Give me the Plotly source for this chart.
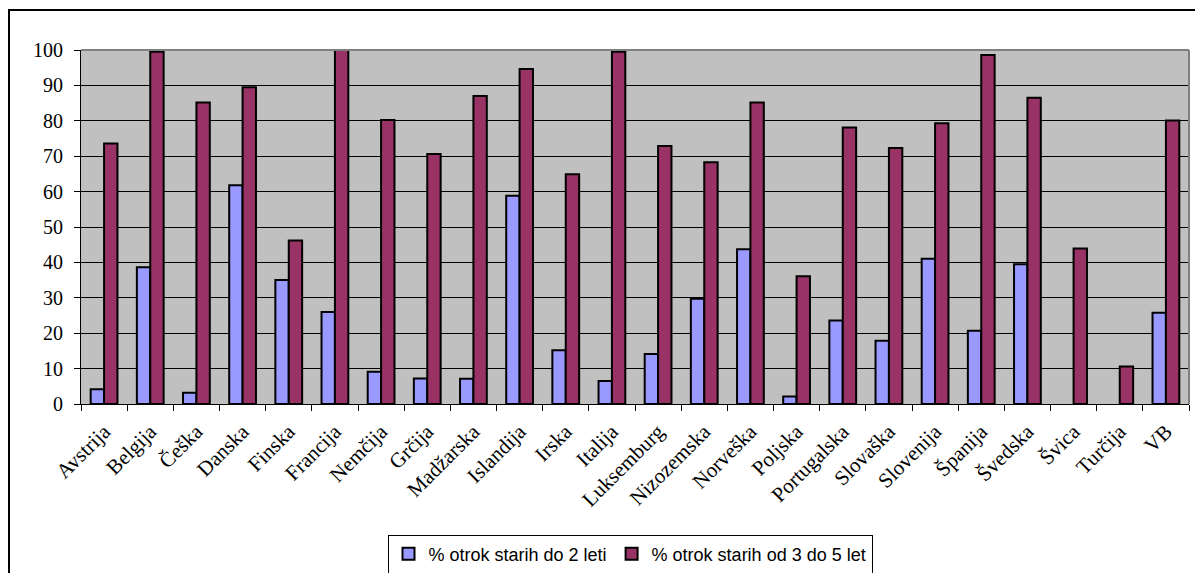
import plotly.graph_objects as go

countries = ["Avstrija", "Belgija", "Češka", "Danska", "Finska", "Francija", "Nemčija",
             "Grčija", "Madžarska", "Islandija", "Irska", "Italija", "Luksemburg",
             "Nizozemska", "Norveška", "Poljska", "Portugalska", "Slovaška", "Slovenija",
             "Španija", "Švedska", "Švica", "Turčija", "VB"]
do2 = [4.2, 38.6, 3.2, 61.8, 35.0, 26.0, 9.1, 7.2, 7.1, 58.8, 15.2, 6.5, 14.1,
       29.7, 43.7, 2.1, 23.6, 17.9, 41.0, 20.7, 39.5, None, None, 25.8]
od3do5 = [73.6, 99.5, 85.2, 89.5, 46.2, 100.0, 80.2, 70.6, 87.0, 94.6, 64.9, 99.5, 72.9,
          68.3, 85.2, 36.1, 78.1, 72.3, 79.3, 98.6, 86.5, 43.9, 10.6, 80.1]
y_ticks = list(range(0, 101, 10))

W, H = 1187, 565
L, T, PW, PH = 73, 42, 1108, 354

fig = go.Figure()
fig.add_trace(go.Bar(x=countries, y=do2, name="% otrok starih do 2 leti",
                     marker=dict(color="#9999FF", line=dict(color="black", width=2))))
fig.add_trace(go.Bar(x=countries, y=od3do5, name="% otrok starih od 3 do 5 let",
                     marker=dict(color="#993366", line=dict(color="black", width=2))))

fig.update_layout(
    width=W, height=H,
    margin=dict(l=L, r=W - L - PW, t=T, b=H - T - PH, autoexpand=False),
    paper_bgcolor="white", plot_bgcolor="#C0C0C0",
    barmode="group", bargap=0.42, bargroupgap=0,
    showlegend=True,
    legend=dict(orientation="h", x=(622 - L) / PW, xanchor="center",
                y=(T + PH - 546) / PH, yanchor="middle",
                bordercolor="black", borderwidth=1, bgcolor="white",
                font=dict(family="Liberation Sans, Arial", size=18, color="black"),
                traceorder="normal"),
    xaxis=dict(type="category", tickangle=-45, tickson="boundaries", ticks="outside",
               ticklen=6, tickcolor="black", showline=True, linecolor="black", linewidth=1,
               ticklabelstandoff=6,
               tickfont=dict(family="Liberation Serif, Times New Roman", size=21, color="black"),
               showgrid=False),
    yaxis=dict(range=[0, 100], tickvals=y_ticks, ticks="outside", ticklen=6, tickcolor="black",
               showline=True, linecolor="black", linewidth=1, showgrid=True,
               gridcolor="black", gridwidth=1, zeroline=False, ticklabelstandoff=7,
               tickfont=dict(family="Liberation Serif, Times New Roman", size=20, color="black")),
)

# gray border on top and right of plot area
fig.add_shape(type="line", xref="paper", yref="paper", x0=0, x1=1, y0=1, y1=1,
              line=dict(color="#808080", width=2))
fig.add_shape(type="line", xref="paper", yref="paper", x0=1, x1=1, y0=0, y1=1,
              line=dict(color="#808080", width=2))
# outer chart border (left and top visible)
fig.add_shape(type="rect", xref="paper", yref="paper",
              x0=(1 - L) / PW, x1=(W + 20 - L) / PW,
              y0=(T + PH - (H + 20)) / PH, y1=(T + PH - 2) / PH,
              line=dict(color="black", width=2), layer="below")

fig.write_html("out.html")
